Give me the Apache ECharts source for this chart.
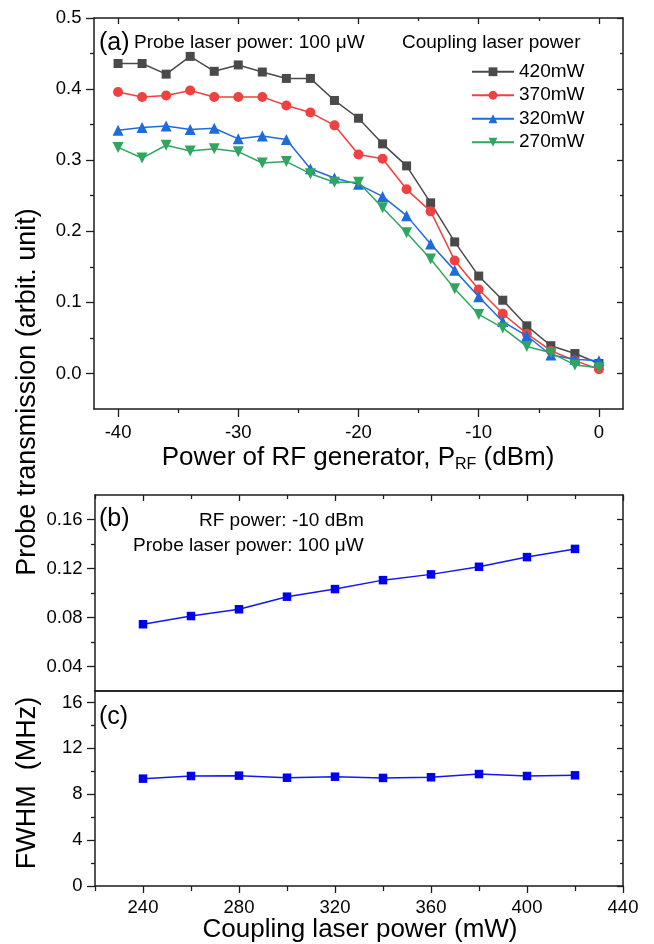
<!DOCTYPE html>
<html><head><meta charset="utf-8">
<script src="https://cdn.jsdelivr.net/npm/echarts@6/dist/echarts.min.js"></script>
<style>html,body{margin:0;padding:0;background:#fff}#c{width:654px;height:944px}</style>
</head><body><div id="c"></div>
<script>
// ---- data ----
const rfPower = [-40,-38,-36,-34,-32,-30,-28,-26,-24,-22,-20,-18,-16,-14,-12,-10,-8,-6,-4,-2,0];
const trans420 = [0.436,0.436,0.421,0.446,0.425,0.434,0.424,0.415,0.415,0.384,0.359,0.323,0.292,0.240,0.185,0.137,0.103,0.067,0.039,0.028,0.014];
const trans370 = [0.396,0.389,0.391,0.398,0.389,0.389,0.389,0.377,0.367,0.349,0.308,0.302,0.259,0.228,0.159,0.118,0.084,0.056,0.032,0.018,0.006];
const trans320 = [0.342,0.346,0.348,0.343,0.345,0.330,0.334,0.329,0.288,0.275,0.266,0.249,0.222,0.182,0.145,0.108,0.073,0.053,0.026,0.020,0.018];
const trans270 = [0.318,0.303,0.321,0.313,0.316,0.312,0.296,0.298,0.281,0.269,0.269,0.233,0.198,0.161,0.119,0.083,0.064,0.038,0.029,0.012,0.008];
const seriesNames = ['420mW','370mW','320mW','270mW'];

const couplingPower = [240,260,280,300,320,340,360,380,400,420];
const transAtMinus10 = [0.0745,0.0812,0.0867,0.0970,0.1032,0.1105,0.1152,0.1214,0.1293,0.1360];
const fwhmMHz = [9.36,9.59,9.62,9.44,9.53,9.42,9.48,9.76,9.59,9.65];

// tick labels
const rfTicks = [-40,-30,-20,-10,0];
const rfMinor = [-35,-25,-15,-5];
const transTicks = [0,0.1,0.2,0.3,0.4,0.5];
const transMinor = [0.05,0.15,0.25,0.35,0.45];
const coupTicks = [240,280,320,360,400,440];
const coupMinor = [220,260,300,340,380,420];
const bTicks = [0.04,0.08,0.12,0.16];
const bMinor = [0.06,0.10,0.14];
const cTicks = [0,4,8,12,16];
const cMinor = [2,6,10,14];

// ---- styling ----
const FONT = "'Liberation Sans', Arial, sans-serif";
const AX = '#1c1c1c';
const colors = ['#4a4a4a','#f0403f','#1e6bdc','#2ea65f'];

function ax(gridIndex, position, min, max, o) {
  return {
    type:'value', gridIndex, position, min, max,
    splitLine:{show:false},
    axisLine:{show: !!o.line, onZero:false, lineStyle:{color:AX, width:1.5}},
    axisTick: o.ticks ? {show:true, inside: !!o.inside, length:o.len, customValues:o.ticks, lineStyle:{color:AX,width:1.3}} : {show:false},
    axisLabel: o.labels ? {show:true, customValues:o.labels, formatter:o.fmt, color:'#000', fontSize:18.5, fontFamily:FONT, margin:o.margin} : {show:false},
    axisPointer:{show:false}
  };
}
const fmt0 = v => String(v);
const fmt1 = v => Number(v).toFixed(1);
const fmt2 = v => Number(v).toFixed(2);

const xAxes = [
  ax(0,'bottom',-42,2,{line:true,ticks:rfTicks,len:8,labels:rfTicks,fmt:fmt0,margin:14}),
  ax(0,'bottom',-42,2,{ticks:rfMinor,len:4}),
  ax(0,'top',-42,2,{line:true,ticks:rfTicks,len:6,inside:true}),
  ax(0,'top',-42,2,{ticks:rfMinor,len:3,inside:true}),
  ax(1,'bottom',220,440,{line:true}),
  ax(1,'top',220,440,{line:true,ticks:coupTicks,len:6,inside:true}),
  ax(1,'top',220,440,{ticks:coupMinor,len:4,inside:true}),
  ax(2,'bottom',220,440,{line:true,ticks:coupTicks,len:7,labels:coupTicks,fmt:fmt0,margin:12}),
  ax(2,'bottom',220,440,{ticks:coupMinor,len:5}),
  ax(2,'top',220,440,{line:true})
];
const yAxes = [
  ax(0,'left',-0.05,0.5,{line:true,ticks:transTicks,len:8,labels:transTicks,fmt:fmt1,margin:12.5}),
  ax(0,'left',-0.05,0.5,{ticks:transMinor,len:4}),
  ax(0,'right',-0.05,0.5,{line:true,ticks:transTicks,len:6,inside:true}),
  ax(0,'right',-0.05,0.5,{ticks:transMinor,len:3,inside:true}),
  ax(1,'left',0.02,0.18,{line:true,ticks:bTicks,len:8,labels:bTicks,fmt:fmt2,margin:12.5}),
  ax(1,'left',0.02,0.18,{ticks:bMinor,len:4}),
  ax(1,'right',0.02,0.18,{line:true,ticks:bTicks,len:6,inside:true}),
  ax(1,'right',0.02,0.18,{ticks:bMinor,len:3,inside:true}),
  ax(2,'left',0,17,{line:true,ticks:cTicks,len:8,labels:cTicks,fmt:fmt0,margin:12.5}),
  ax(2,'left',0,17,{ticks:cMinor,len:4}),
  ax(2,'right',0,17,{line:true,ticks:cTicks,len:6,inside:true}),
  ax(2,'right',0,17,{ticks:cMinor,len:3,inside:true})
];

const symbols = ['rect','circle','triangle','triangle'];
const symSizes = [9,10,11,11];
const symRot = [0,0,0,180];
const aData = [trans420,trans370,trans320,trans270];
const series = aData.map((arr,k)=>({
  name: seriesNames[k], type:'line', xAxisIndex:0, yAxisIndex:0,
  data: rfPower.map((x,i)=>[x,arr[i]]),
  symbol: symbols[k], symbolSize: symSizes[k], symbolRotate: symRot[k],
  showSymbol:true,
  lineStyle:{color:colors[k], width:1.5},
  itemStyle:{color:colors[k]},
  z: 2+k
}));
series.push({
  type:'line', xAxisIndex:4, yAxisIndex:4,
  data: couplingPower.map((x,i)=>[x,transAtMinus10[i]]),
  symbol:'rect', symbolSize:8.5, lineStyle:{color:'#1515f5',width:1.5}, itemStyle:{color:'#0000f0'}
});
series.push({
  type:'line', xAxisIndex:7, yAxisIndex:8,
  data: couplingPower.map((x,i)=>[x,fwhmMHz[i]]),
  symbol:'rect', symbolSize:8.5, lineStyle:{color:'#1515f5',width:1.5}, itemStyle:{color:'#0000f0'}
});

function txt(x,y,text,size){
  return {type:'text', x, y, style:{text, fontSize:size, fontFamily:FONT, fill:'#000', align:'left', verticalAlign:'middle'}};
}

const option = {
  animation:false,
  backgroundColor:'#fff',
  grid:[
    {left:94, top:18, width:529, height:391},
    {left:95, top:495, width:528, height:196},
    {left:95, top:691, width:528, height:195}
  ],
  xAxis:xAxes, yAxis:yAxes, series,
  legend:{
    data:seriesNames, orient:'vertical', left:466, top:55, itemWidth:42, itemHeight:11, itemGap:0,
    selectedMode:false,
    textStyle:{fontSize:19, fontFamily:FONT, color:'#000', lineHeight:23.5}
  },
  graphic:[
    txt(99,43,'(a)',25),
    txt(134,43,'Probe laser power: 100 μW',19),
    txt(402,43,'Coupling laser power',19),
    txt(99,519,'(b)',25),
    txt(199,521,'RF power: -10 dBm',19),
    txt(133,546,'Probe laser power: 100 μW',19),
    txt(99,717,'(c)',25),
    {type:'text', x:28, y:392, rotation:Math.PI/2, style:{text:'Probe transmission (arbit. unit)', fontSize:27, fontFamily:FONT, fill:'#000', align:'center', verticalAlign:'middle'}},
    {type:'text', x:28, y:783, rotation:Math.PI/2, style:{text:'FWHM  (MHz)', fontSize:27, fontFamily:FONT, fill:'#000', align:'center', verticalAlign:'middle'}},
    {type:'text', x:358, y:458, style:{text:'Power of RF generator, P{sub|RF} (dBm)', fontSize:26, fontFamily:FONT, fill:'#000', align:'center', verticalAlign:'middle',
      rich:{sub:{fontSize:16, fontFamily:FONT, fill:'#000', padding:[14,0,0,0]}}}},
    {type:'text', x:360, y:930, style:{text:'Coupling laser power (mW)', fontSize:26, fontFamily:FONT, fill:'#000', align:'center', verticalAlign:'middle'}}
  ]
};
const chart = echarts.init(document.getElementById('c'), null, {renderer:'canvas'});
chart.setOption(option);
</script></body></html>
